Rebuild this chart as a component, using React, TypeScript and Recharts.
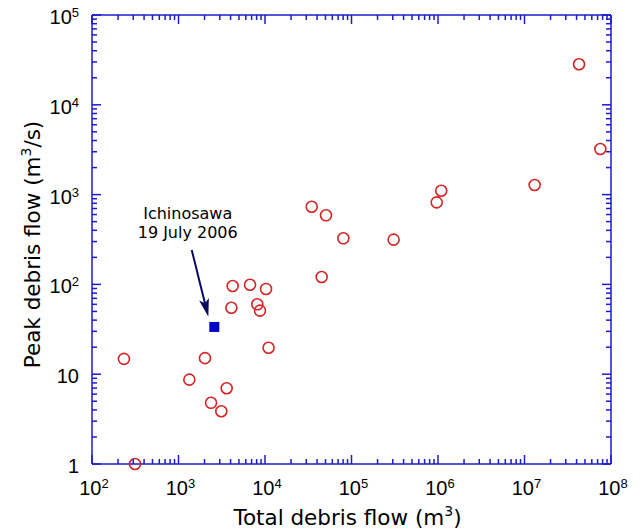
import { ScatterChart, Scatter, XAxis, YAxis, ReferenceLine, Label } from 'recharts';

// debris flow events
const totalFlow = [234, 314, 1334, 2024, 2377, 3126, 3605, 4085, 4227, 6714, 8150, 8750, 10280, 11000,
    34670, 50700, 80500, 45200, 307000, 966000, 1090000, 13100000, 42700000, 75300000];
const peakFlow = [14.8, 1.0, 8.7, 15.1, 4.8, 3.87, 6.97, 55, 96, 99, 60, 51, 89, 19.7,
    733, 588, 326, 121, 315, 820, 1104, 1280, 28250, 3222];

const ichinosawaTotal = [2595];
const ichinosawaPeak = [33.6];

const xMajorTicks = [1e2, 1e3, 1e4, 1e5, 1e6, 1e7, 1e8];
const xTickExponents = ['2', '3', '4', '5', '6', '7', '8'];
const yMajorTicks = [1, 10, 1e2, 1e3, 1e4, 1e5];
const yTickBase = ['1', '10', '10', '10', '10', '10'];
const yTickExponents = ['', '', '2', '3', '4', '5'];

const noteLines = ['Ichinosawa', '19 July 2006'];
const arrowFrom = { x: 1422, y: 241.6 };
const arrowTo = { x: 2213, y: 43.6 };

const AXIS = '#1c1cc8';
const RED = '#d42424';
const BLUE = '#0000c8';
const NAVY = '#0a0a60';
const TICK_FONT = "'Liberation Sans Narrow', 'Liberation Sans', Arial, sans-serif";
const TITLE_FONT = "'DejaVu Sans', sans-serif";

const debrisData = totalFlow.map((t, i) => ({ total: t, peak: peakFlow[i] }));
const ichinosawaData = ichinosawaTotal.map((t, i) => ({ total: t, peak: ichinosawaPeak[i] }));

// majors plus 2..9 minors in every decade
const withMinor = (major: number[]) =>
    major.flatMap((m, i) => i === major.length - 1 ? [m] : [m, 2 * m, 3 * m, 4 * m, 5 * m, 6 * m, 7 * m, 8 * m, 9 * m]);

const xTicks = withMinor(xMajorTicks);
const yTicks = withMinor(yMajorTicks);

const XTick = (props: any) => {
    const { x, y, payload, side } = props;
    const i = xMajorTicks.indexOf(payload.value);
    const len = i >= 0 ? 9 : 5;
    const dir = side === 'bottom' ? -1 : 1;
    return (
        <g>
            <line x1={x} y1={y} x2={x} y2={y + dir * len} stroke={AXIS} strokeWidth={1.5} />
            {side === 'bottom' && i >= 0 && (
                <text x={x + 2} y={y + 31} textAnchor="middle" fontFamily={TICK_FONT} fontSize={20} fill="#000">
                    <tspan>10</tspan>
                    <tspan dy={-7} fontSize={13}>{xTickExponents[i]}</tspan>
                </text>
            )}
        </g>
    );
};

const YTick = (props: any) => {
    const { x, y, payload, side } = props;
    const i = yMajorTicks.indexOf(payload.value);
    const len = i >= 0 ? 9 : 5;
    const dir = side === 'left' ? 1 : -1;
    return (
        <g>
            <line x1={x} y1={y} x2={x + dir * len} y2={y} stroke={AXIS} strokeWidth={1.5} />
            {side === 'left' && i >= 0 && (
                <text x={x - 13} y={y + 9} textAnchor="end" fontFamily={TICK_FONT} fontSize={20} fill="#000">
                    <tspan>{yTickBase[i]}</tspan>
                    {yTickExponents[i] && <tspan dy={-7} fontSize={13}>{yTickExponents[i]}</tspan>}
                </text>
            )}
        </g>
    );
};

const XTitle = (props: any) => {
    const { x, y, width } = props.viewBox;
    return (
        <text x={x + width / 2 - 4} y={y + 61} textAnchor="middle" fontFamily={TITLE_FONT} fontSize={21.5} fill="#000">
            <tspan>Total debris flow (m</tspan>
            <tspan dy={-9} fontSize={14}>3</tspan>
            <tspan dy={9}>)</tspan>
        </text>
    );
};

const YTitle = (props: any) => {
    const { y, height } = props.viewBox;
    const cx = 40;
    const cy = y + height / 2 + 5;
    return (
        <text x={cx} y={cy} transform={`rotate(-90 ${cx} ${cy})`} textAnchor="middle" fontFamily={TITLE_FONT} fontSize={21.5} fill="#000">
            <tspan>Peak debris flow (m</tspan>
            <tspan dy={-9} fontSize={14}>3</tspan>
            <tspan dy={9}>/s)</tspan>
        </text>
    );
};

const Arrow = (props: any) => {
    const { x1, y1, x2, y2 } = props;
    const dx = x2 - x1;
    const dy = y2 - y1;
    const d = Math.sqrt(dx * dx + dy * dy);
    const ux = dx / d;
    const uy = dy / d;
    const bx = x2 - ux * 18;
    const by = y2 - uy * 18;
    const nx = -uy * 5;
    const ny = ux * 5;
    const head = `${x2},${y2} ${bx + nx},${by + ny} ${x2 - ux * 14},${y2 - uy * 14} ${bx - nx},${by - ny}`;
    return (
        <g>
            <line x1={x1} y1={y1} x2={x2 - ux * 14} y2={y2 - uy * 14} stroke={NAVY} strokeWidth={2} />
            <polygon points={head} fill={NAVY} />
            {noteLines.map((t, i) => (
                <text key={i} x={x1 - 4} y={y1 - 31 + i * 19} textAnchor="middle" fontFamily={TITLE_FONT} fontSize={16} fill="#000">{t}</text>
            ))}
        </g>
    );
};

const App = () => {
    return (
        <div style={{ position: 'absolute', left: 0, top: 0, width: 640, height: 532, background: '#fff' }}>
            <ScatterChart width={640} height={532} margin={{ top: 0, right: 0, bottom: 0, left: 0 }}>
                <XAxis dataKey="total" type="number" scale="log" domain={[1e2, 1e8]}
                    ticks={xTicks} interval={0} height={68} tickSize={0} tickMargin={0} tickLine={false}
                    axisLine={{ stroke: AXIS, strokeWidth: 1.5 }} tick={(p: any) => <XTick {...p} side="bottom" />}>
                    <Label content={XTitle} />
                </XAxis>
                <XAxis xAxisId="top" orientation="top" dataKey="total" type="number" scale="log" domain={[1e2, 1e8]} allowDataOverflow
                    ticks={xTicks} interval={0} height={15} tickSize={0} tickMargin={0} tickLine={false}
                    axisLine={{ stroke: AXIS, strokeWidth: 1.5 }} tick={(p: any) => <XTick {...p} side="top" />} />
                <YAxis dataKey="peak" type="number" scale="log" domain={[1, 1e5]}
                    ticks={yTicks} interval={0} width={92} tickSize={0} tickMargin={0} tickLine={false}
                    axisLine={{ stroke: AXIS, strokeWidth: 1.5 }} tick={(p: any) => <YTick {...p} side="left" />}>
                    <Label content={YTitle} />
                </YAxis>
                <YAxis yAxisId="right" orientation="right" dataKey="peak" type="number" scale="log" domain={[1, 1e5]} allowDataOverflow
                    ticks={yTicks} interval={0} width={29} tickSize={0} tickMargin={0} tickLine={false}
                    axisLine={{ stroke: AXIS, strokeWidth: 1.5 }} tick={(p: any) => <YTick {...p} side="right" />} />
                <ReferenceLine segment={[arrowFrom, arrowTo]} ifOverflow="visible" shape={Arrow} />
                <Scatter data={debrisData} isAnimationActive={false}
                    shape={(p: any) => <circle cx={p.cx} cy={p.cy} r={5.5} fill="none" stroke={RED} strokeWidth={1.6} />} />
                <Scatter data={ichinosawaData} isAnimationActive={false}
                    shape={(p: any) => <rect x={p.cx - 5} y={p.cy - 5} width={10} height={10} fill={BLUE} />} />
            </ScatterChart>
        </div>
    );
};

export default App;
